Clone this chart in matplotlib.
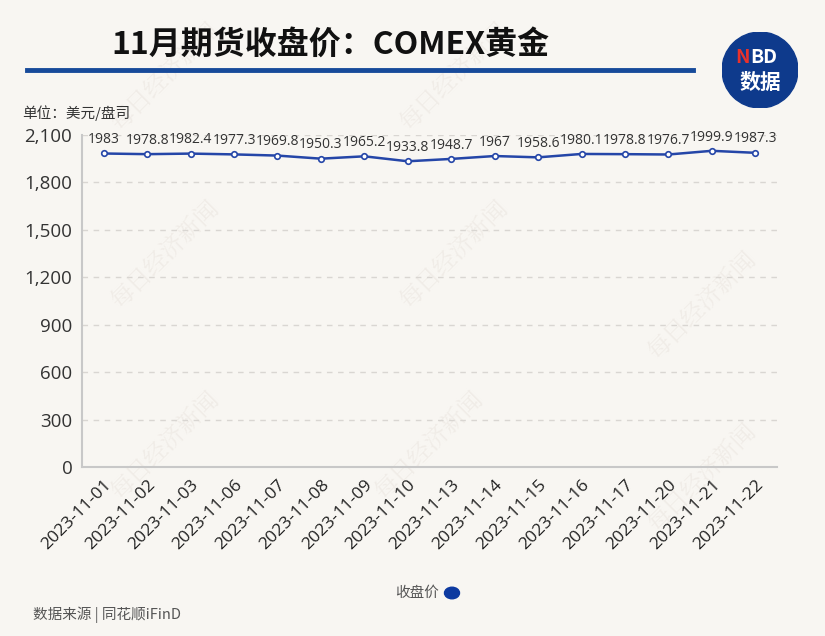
import matplotlib
matplotlib.use('Agg')
import matplotlib.pyplot as plt
from matplotlib.patches import Circle

plt.rcParams['font.family'] = ['Noto Sans CJK SC', 'DejaVu Sans']
num_font = ['Open Sans', 'Noto Sans CJK SC']

dates = ['2023-11-01', '2023-11-02', '2023-11-03', '2023-11-06', '2023-11-07',
         '2023-11-08', '2023-11-09', '2023-11-10', '2023-11-13', '2023-11-14',
         '2023-11-15', '2023-11-16', '2023-11-17', '2023-11-20', '2023-11-21',
         '2023-11-22']
close = [1983, 1978.8, 1982.4, 1977.3, 1969.8, 1950.3, 1965.2, 1933.8, 1948.7,
         1967, 1958.6, 1980.1, 1978.8, 1976.7, 1999.9, 1987.3]
yticks = [0, 300, 600, 900, 1200, 1500, 1800, 2100]

bg = '#f8f6f2'
blue = '#2546a8'

fig = plt.figure(figsize=(8.25, 6.36), dpi=100, facecolor=bg)

# 水印（放在最底层）
wm = fig.add_axes([0, 0, 1, 1], zorder=-10)
wm.axis('off')
for (wx, wy) in [(0.2, 0.88), (0.55, 0.88), (0.2, 0.6), (0.55, 0.6),
                 (0.85, 0.52), (0.2, 0.3), (0.52, 0.3), (0.85, 0.25)]:
    wm.text(wx, wy, '每日经济新闻', rotation=45, fontsize=17, color='#f0ece7',
            ha='center', va='center', transform=wm.transAxes,
            family=['Noto Serif CJK SC', 'Noto Sans CJK SC'])

ax = fig.add_axes([82 / 825, 1 - 467 / 636, 695 / 825, 332 / 636], zorder=1)
ax.set_facecolor('none')

x = list(range(len(dates)))
ax.plot(x, close, color=blue, lw=1.8, marker='o', ms=4, mfc='white', mec=blue,
        mew=1.2, zorder=3)
for xi, v in zip(x, close):
    ax.text(xi, v + 40, f'{v:g}', ha='center', va='bottom', fontsize=10,
            color='#333333', family=num_font)

ax.set_xlim(-0.5, len(dates) - 0.5)
ax.set_ylim(0, 2100)
ax.set_yticks(yticks)
ax.set_yticklabels([f'{t:,}' for t in yticks], fontsize=13.5, color='#333333',
                   family=num_font)
ax.set_xticks(x)
ax.set_xticklabels(dates, rotation=45, ha='right', rotation_mode='anchor',
                   fontsize=12.5, color='#222222', family=num_font)
ax.tick_params(axis='both', length=0, pad=7)
ax.yaxis.grid(True, ls=(0, (4, 4)), color='#d9d6d2', lw=1)
ax.set_axisbelow(True)
for s in ['top', 'right']:
    ax.spines[s].set_visible(False)
ax.spines['left'].set_color('#c8c8c8')
ax.spines['bottom'].set_color('#c8c8c8')
ax.spines['left'].set_linewidth(1.5)
ax.spines['bottom'].set_linewidth(1.5)

# 标题
fig.text(330 / 825, 1 - 45 / 636, '11月期货收盘价：COMEX黄金', ha='center', va='center',
         fontsize=23, fontweight='bold', color='#111111')
fig.add_artist(plt.Line2D([27 / 825, 693 / 825], [1 - 70 / 636, 1 - 70 / 636],
                          color='#174a9a', lw=3.5))

# NBD 标志
logo = fig.add_axes([722 / 825, 1 - 108 / 636, 76 / 825, 76 / 636], zorder=5)
logo.set_xlim(0, 1)
logo.set_ylim(0, 1)
logo.set_aspect('equal')
logo.axis('off')
logo.add_patch(Circle((0.5, 0.5), 0.5, color='#0e3a8c'))
logo.text(0.37, 0.66, 'N', color='#e8322c', fontsize=14, fontweight='bold', ha='right', va='center')
logo.text(0.37, 0.66, 'BD', color='white', fontsize=14, fontweight='bold', ha='left', va='center')
logo.text(0.5, 0.33, '数据', color='white', fontsize=15, fontweight='bold', ha='center', va='center')

fig.text(22 / 825, 1 - 113 / 636, '单位：美元/盘司', fontsize=10.5, color='#333333', va='center')
fig.text(33 / 825, 1 - 615 / 636, '数据来源 | 同花顺iFinD', fontsize=10.5, color='#555555', va='center')

# 图例
fig.text(439 / 825, 1 - 593 / 636, '收盘价', fontsize=10.5, color='#555555', ha='right', va='center')
fig.add_artist(Circle((452 / 825, 1 - 593 / 636), 7.5 / 825, transform=fig.transFigure,
                      color='#0d3aa0'))

fig.savefig('out.png', dpi=100, facecolor=bg)
